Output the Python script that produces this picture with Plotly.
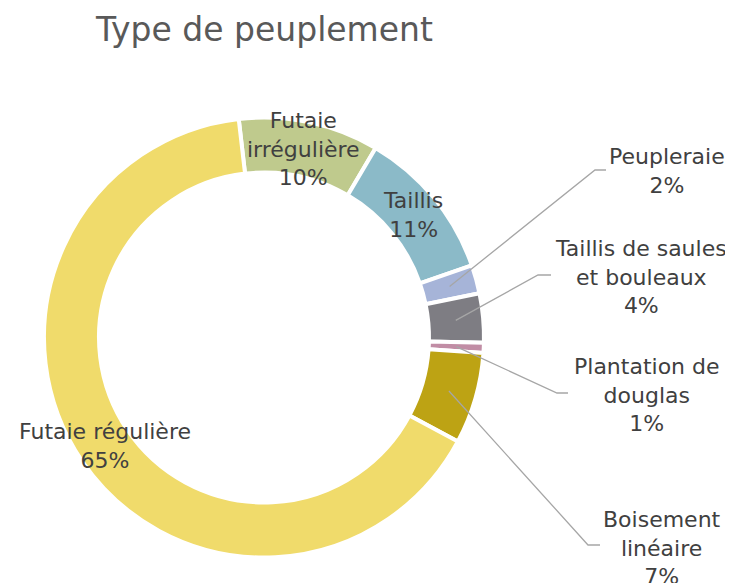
import math
import plotly.graph_objects as go

# ---- data ----
categories = ["Futaie irrégulière", "Taillis", "Peupleraie",
              "Taillis de saules et bouleaux", "Plantation de douglas",
              "Boisement linéaire", "Futaie régulière"]
display_labels = ["Futaie<br>irrégulière", "Taillis", "Peupleraie",
                  "Taillis de saules<br>et bouleaux", "Plantation de<br>douglas",
                  "Boisement<br>linéaire", "Futaie régulière"]
values = [10.3, 11.2, 2.1, 3.6, 0.75, 6.7, 65.3]
colors = ["#BFCA8D", "#8BBAC8", "#A6B4D8", "#7E7D83", "#C18DA5", "#BDA314", "#F0DB6B"]

# ---- layout geometry (screen pixels) ----
W, H = 733, 583
OFF = 8  # page body margin
CX, CY, R = 264, 337.5, 220
HOLE = 0.75
ROT = -6.6
TEXT_COLOR = "#404040"
FONT = "DejaVu Sans"
FS = 22

# outside labels: index -> (label center px, bend point px, bend end px)
outside = {
    2: ((667, 171), (595, 170), (606, 170)),
    3: ((641, 277), (538, 275), (551, 275)),
    4: ((647, 395), (557, 393), (568, 393)),
    5: ((662, 548), (588, 545), (600, 545)),
}

def px(x):
    return (x - OFF) / W

def py(y):
    return 1 - (y - OFF) / H

fig = go.Figure(go.Pie(
    labels=categories, values=values, sort=False, direction="clockwise",
    rotation=ROT, hole=HOLE, textinfo="none", hoverinfo="label+percent",
    marker=dict(colors=colors, line=dict(color="white", width=4)),
    domain=dict(x=[px(CX - R), px(CX + R)], y=[py(CY + R), py(CY - R)]),
    showlegend=False,
))

total = sum(values)
mid_r = R * (1 + HOLE) / 2
start = ROT
annotations = []
shapes = []
for i, v in enumerate(values):
    ang = start + v / total * 360
    mid = math.radians((start + ang) / 2)
    start = ang
    mx = CX + mid_r * math.sin(mid)
    my = CY - mid_r * math.cos(mid)
    text = f"{display_labels[i]}<br>{round(v / total * 100)}%"
    if i in outside:
        (lx, ly), (bx, by), (ex, ey) = outside[i]
        shapes.append(dict(type="path", xref="paper", yref="paper",
                           path=f"M {px(mx)} {py(my)} L {px(bx)} {py(by)} L {px(ex)} {py(ey)}",
                           line=dict(color="#A6A6A6", width=1.3)))
    else:
        lx, ly = mx, my
    annotations.append(dict(x=px(lx), y=py(ly), xref="paper", yref="paper",
                            text=text, showarrow=False, xanchor="center",
                            yanchor="middle", align="center",
                            font=dict(family=FONT, size=FS, color=TEXT_COLOR)))

annotations.append(dict(x=px(264), y=py(30), xref="paper", yref="paper",
                        text="Type de peuplement", showarrow=False,
                        xanchor="center", yanchor="middle",
                        font=dict(family=FONT, size=33, color="#595959")))

fig.update_layout(width=W, height=H, margin=dict(l=0, r=0, t=0, b=0),
                  paper_bgcolor="white", plot_bgcolor="white",
                  annotations=annotations, shapes=shapes)
fig.write_html("out.html")
